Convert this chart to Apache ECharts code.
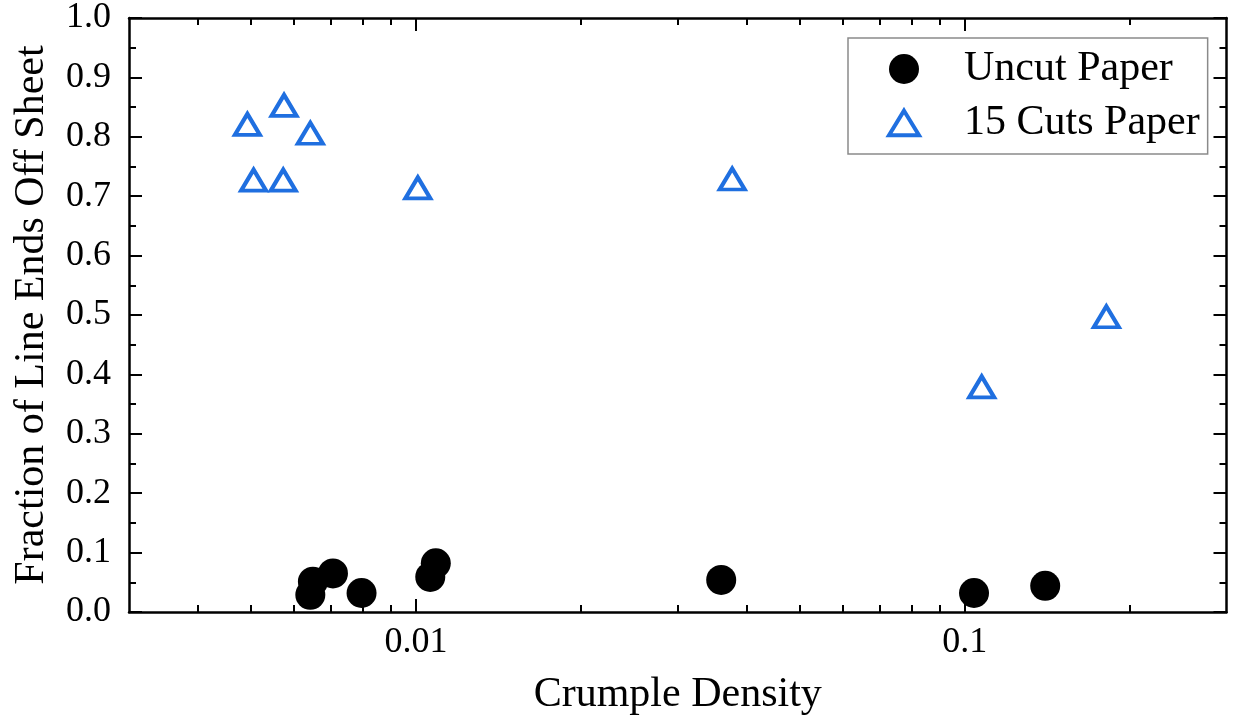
<!DOCTYPE html>
<html>
<head>
<meta charset="utf-8">
<title>Fraction of Line Ends Off Sheet vs Crumple Density</title>
<script src="https://cdn.jsdelivr.net/npm/echarts@6/dist/echarts.min.js"></script>
<style>
  html, body { margin: 0; padding: 0; background: #ffffff; }
  #chart { width: 1249px; height: 721px; }
</style>
</head>
<body>
<div id="chart"></div>
<script>
// Measurements: crumple density (x, log scale) and fraction of line ends off the sheet (y)
const uncutX = [0.00642, 0.00649, 0.00706, 0.00796, 0.01062, 0.01087, 0.0360, 0.1040, 0.1402];
const uncutY = [0.029, 0.051, 0.065, 0.032, 0.059, 0.082, 0.054, 0.032, 0.044];
const cutX = [0.00493, 0.00575, 0.00642, 0.00506, 0.00573, 0.01008, 0.0377, 0.1074, 0.1812];
const cutY = [0.821, 0.853, 0.806, 0.727, 0.727, 0.714, 0.729, 0.379, 0.497];

const seriesNames = ['Uncut Paper', '15 Cuts Paper'];

// Axis ticks
const xMajorTicks = [0.01, 0.1];
const xMajorLabels = ['0.01', '0.1'];
const xMinorTicks = [0.004, 0.005, 0.006, 0.007, 0.008, 0.009,
                     0.02, 0.03, 0.04, 0.05, 0.06, 0.07, 0.08, 0.09, 0.2];
const xRange = [0.003, 0.3];
const yRange = [0, 1];
const yStep = 0.1;

const FONT = '"Liberation Serif", "Times New Roman", serif';
const BLUE = '#1f6fe0';
const INK = '#000000';

function pairs(xs, ys) { return xs.map((x, i) => [x, ys[i]]); }

function xAxisDef(position, ticks, tickLen, withLine, withLabels) {
  return {
    type: 'log',
    logBase: 10,
    min: xRange[0],
    max: xRange[1],
    position: position,
    gridIndex: 0,
    axisLine: { show: withLine, onZero: false, lineStyle: { color: INK, width: 2.5 } },
    axisTick: { show: true, inside: true, length: tickLen, customValues: ticks,
                lineStyle: { color: INK, width: 2 } },
    minorTick: { show: false },
    axisLabel: withLabels ? {
      show: true, customValues: xMajorTicks, margin: 13,
      fontFamily: FONT, fontSize: 36, color: INK,
      formatter: function (v) {
        let best = 0;
        xMajorTicks.forEach((t, i) => { if (Math.abs(Math.log10(t) - Math.log10(v)) < Math.abs(Math.log10(xMajorTicks[best]) - Math.log10(v))) best = i; });
        return xMajorLabels[best];
      }
    } : { show: false },
    splitLine: { show: false },
    minorSplitLine: { show: false }
  };
}

function yAxisDef(position, withLabels) {
  return {
    type: 'value',
    min: yRange[0],
    max: yRange[1],
    interval: yStep,
    position: position,
    axisLine: { show: true, onZero: false, lineStyle: { color: INK, width: 2.5 } },
    axisTick: { show: true, inside: true, length: 13, lineStyle: { color: INK, width: 2 } },
    minorTick: { show: true, splitNumber: 2, length: 7, lineStyle: { color: INK, width: 2 } },
    axisLabel: withLabels ? {
      show: true, margin: 18, fontFamily: FONT, fontSize: 36, color: INK,
      formatter: v => v.toFixed(1)
    } : { show: false },
    splitLine: { show: false },
    minorSplitLine: { show: false }
  };
}

const chart = echarts.init(document.getElementById('chart'), null, { renderer: 'canvas' });

const bottomMajor = xAxisDef('bottom', xMajorTicks, 13, true, true);
bottomMajor.name = 'Crumple Density';
bottomMajor.nameLocation = 'middle';
bottomMajor.nameGap = 62;
bottomMajor.nameTextStyle = { fontFamily: FONT, fontSize: 42, color: INK };

const leftAxis = yAxisDef('left', true);
leftAxis.name = 'Fraction of Line Ends Off Sheet';
leftAxis.nameLocation = 'middle';
leftAxis.nameGap = 76;
leftAxis.nameTextStyle = { fontFamily: FONT, fontSize: 42, color: INK };

// Open triangle used for the legend key (slightly wider than tall)
const TRIANGLE_ICON = 'path://M14,0 L28,23 L0,23 Z';

const option = {
  backgroundColor: '#ffffff',
  animation: false,
  grid: { left: 129, right: 22.5, top: 18, bottom: 109, containLabel: false },
  xAxis: [
    bottomMajor,
    xAxisDef('bottom', xMinorTicks, 7, false, false),
    xAxisDef('top', xMajorTicks, 13, true, false),
    xAxisDef('top', xMinorTicks, 7, false, false)
  ],
  yAxis: [
    leftAxis,
    yAxisDef('right', false)
  ],
  legend: {
    orient: 'vertical',
    left: 848,
    top: 38,
    padding: [10, 8, 10, 39],
    itemWidth: 30,
    itemHeight: 30,
    itemGap: 12,
    backgroundColor: '#ffffff',
    borderColor: '#8a8a8a',
    borderWidth: 1.5,
    borderRadius: 0,
    formatter: name => '{g| }' + name,
    textStyle: {
      fontFamily: FONT, fontSize: 42, color: INK, lineHeight: 40,
      rich: { g: { width: 40, fontSize: 42, fontFamily: FONT, lineHeight: 40 } }
    },
    data: [
      { name: seriesNames[0], icon: 'circle', itemStyle: { color: INK, borderWidth: 0 } },
      { name: seriesNames[1], icon: TRIANGLE_ICON,
        itemStyle: { color: 'rgba(255,255,255,0)', borderColor: BLUE, borderWidth: 4 } }
    ]
  },
  series: [
    {
      name: seriesNames[0],
      type: 'scatter',
      xAxisIndex: 0,
      yAxisIndex: 0,
      symbol: 'circle',
      symbolSize: 30,
      itemStyle: { color: INK, opacity: 1 },
      data: pairs(uncutX, uncutY),
      z: 3
    },
    {
      name: seriesNames[1],
      type: 'scatter',
      xAxisIndex: 0,
      yAxisIndex: 0,
      symbol: 'triangle',
      symbolSize: [25, 21],
      itemStyle: { color: 'rgba(255,255,255,0)', borderColor: BLUE, borderWidth: 4, opacity: 1 },
      data: pairs(cutX, cutY),
      z: 3
    }
  ]
};

chart.setOption(option);
</script>
</body>
</html>
